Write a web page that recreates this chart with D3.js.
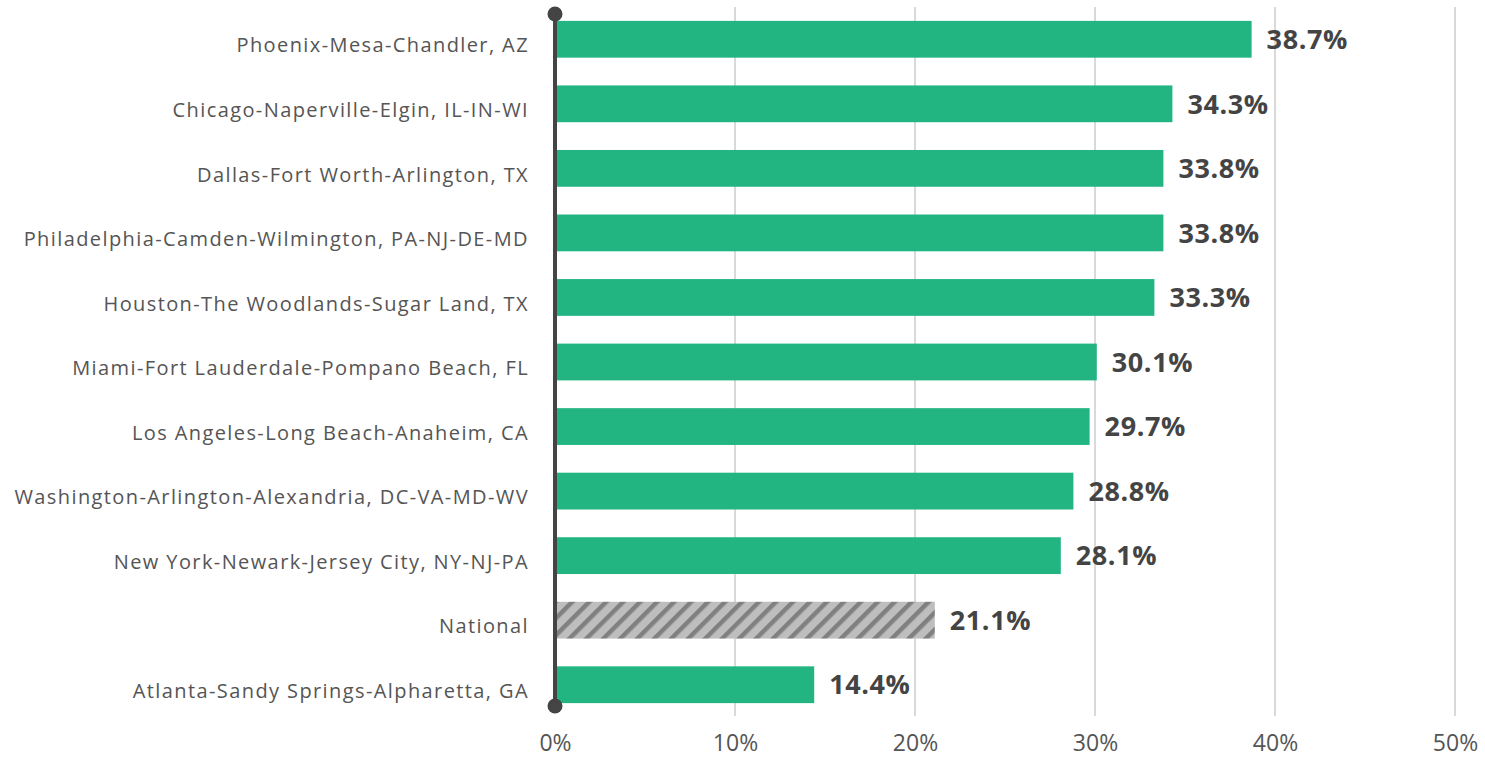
<!DOCTYPE html>
<html><head><meta charset="utf-8">
<script src="https://cdn.jsdelivr.net/npm/d3@7"></script>
<style>body{margin:0;background:#fff;}svg{display:block;font-family:"Open Sans", sans-serif;}</style>
</head><body>
<svg id="chart" width="1485" height="757"></svg>
<script>
const categories = ["Phoenix-Mesa-Chandler, AZ","Chicago-Naperville-Elgin, IL-IN-WI","Dallas-Fort Worth-Arlington, TX","Philadelphia-Camden-Wilmington, PA-NJ-DE-MD","Houston-The Woodlands-Sugar Land, TX","Miami-Fort Lauderdale-Pompano Beach, FL","Los Angeles-Long Beach-Anaheim, CA","Washington-Arlington-Alexandria, DC-VA-MD-WV","New York-Newark-Jersey City, NY-NJ-PA","National","Atlanta-Sandy Springs-Alpharetta, GA"];
const values = [38.7,34.3,33.8,33.8,33.3,30.1,29.7,28.8,28.1,21.1,14.4];
const tickValues = [0,10,20,30,40,50];

const svg = d3.select("#chart");
const x = d3.scaleLinear().domain([0,50]).range([555,1455]);
const y = d3.scaleBand().domain(categories).range([7,717]).paddingInner(0.43).paddingOuter(0.215);

const defs = svg.append("defs");
const pat = defs.append("pattern").attr("id","hatch").attr("patternUnits","userSpaceOnUse")
  .attr("width",12).attr("height",12).attr("patternTransform","rotate(45)");
pat.append("rect").attr("width",12).attr("height",12).attr("fill","#bebebe");
pat.append("rect").attr("width",4.5).attr("height",12).attr("fill","#808080");

// grid
svg.append("g").selectAll("line").data(tickValues.filter(d=>d>0)).join("line")
  .attr("x1",d=>x(d)).attr("x2",d=>x(d)).attr("y1",7).attr("y2",716)
  .attr("stroke","#d9d9d9").attr("stroke-width",2);

// x tick labels
const xAxis = d3.axisBottom(x).tickValues(tickValues).tickFormat(d=>d+"%").tickSize(0).tickPadding(0);
const gx = svg.append("g").attr("transform","translate(0,734)").call(xAxis);
gx.select(".domain").remove();
gx.selectAll("text").attr("font-size",23).attr("fill","#555").attr("font-family","'Open Sans', sans-serif")
  .attr("dy","0.73em");

// bars
svg.append("g").selectAll("rect").data(values).join("rect")
  .attr("x",x(0)).attr("y",(d,i)=>y(categories[i]))
  .attr("width",d=>x(d)-x(0)).attr("height",y.bandwidth())
  .attr("fill",(d,i)=>categories[i]==="National"?"url(#hatch)":"#22b582");

// category labels
const yAxis = d3.axisLeft(y).tickSize(0).tickPadding(26);
const gy = svg.append("g").attr("transform",`translate(${x(0)},0)`).call(yAxis);
gy.select(".domain").remove();
gy.selectAll("text").attr("font-size",20).attr("fill","#555").attr("font-family","'Open Sans', sans-serif")
  .attr("letter-spacing","1.4px").attr("dy","0.66em");

// value labels
svg.append("g").selectAll("text").data(values).join("text")
  .attr("x",d=>x(d)+15).attr("y",(d,i)=>y(categories[i])+y.bandwidth()/2)
  .attr("dy","0.36em").attr("font-size",27).attr("font-weight",700).attr("fill","#444")
  .attr("letter-spacing","0.6px")
  .text(d=>d.toFixed(1)+"%");

// axis line with dots
svg.append("line").attr("x1",x(0)).attr("x2",x(0)).attr("y1",14).attr("y2",706)
  .attr("stroke","#444").attr("stroke-width",4);
svg.append("circle").attr("cx",x(0)).attr("cy",14).attr("r",7.5).attr("fill","#444");
svg.append("circle").attr("cx",x(0)).attr("cy",706).attr("r",7.5).attr("fill","#444");
</script>
</body></html>
